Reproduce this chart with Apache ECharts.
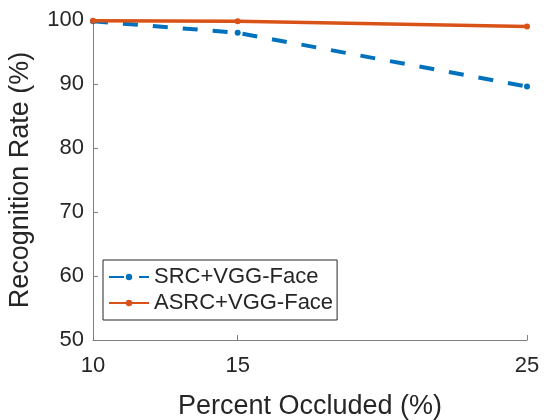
<!DOCTYPE html>
<html>
<head>
<meta charset="utf-8">
<script src="https://cdn.jsdelivr.net/npm/echarts@6/dist/echarts.min.js"></script>
<style>
  html, body { margin: 0; padding: 0; background: #fff; }
  #chart { width: 545px; height: 420px; }
</style>
</head>
<body>
<div id="chart"></div>
<script>
// Occlusion levels (%) and recognition rates (%)
const occlusion = [10, 15, 25];
const srcVgg = [99.8, 98.0, 89.6];
const asrcVgg = [99.9, 99.8, 99.0];
const xTicks = [10, 15, 25];
const yTicks = [50, 60, 70, 80, 90, 100];

const textColor = '#262626';
const axisColor = '#7f7f7f';
const font = 'Liberation Sans, Arial, Helvetica, sans-serif';

const chart = echarts.init(document.getElementById('chart'), null, { renderer: 'canvas' });

chart.setOption({
  animation: false,
  backgroundColor: '#ffffff',
  textStyle: { fontFamily: font },
  grid: { left: 93, right: 18, top: 20, bottom: 80, containLabel: false, outerBoundsMode: 'none' },
  legend: {
    left: 103,
    top: 260,
    orient: 'vertical',
    backgroundColor: '#ffffff',
    borderColor: '#262626',
    borderWidth: 1,
    padding: [6, 4, 6, 5],
    itemGap: 4,
    itemWidth: 40,
    itemHeight: 8,
    textStyle: { fontSize: 22, color: textColor, fontFamily: font },
    data: ['SRC+VGG-Face', 'ASRC+VGG-Face']
  },
  xAxis: {
    type: 'value',
    min: 10,
    max: 25,
    name: 'Percent Occluded (%)',
    nameLocation: 'middle',
    nameGap: 53,
    nameTextStyle: { fontSize: 27, color: textColor, fontFamily: font },
    axisLine: { lineStyle: { color: axisColor, width: 1 } },
    axisTick: { inside: true, length: 5, lineStyle: { color: axisColor }, customValues: xTicks },
    axisLabel: { fontSize: 22, color: textColor, margin: 15, customValues: xTicks },
    splitLine: { show: false }
  },
  yAxis: {
    type: 'value',
    min: 50,
    max: 100,
    interval: 10,
    name: 'Recognition Rate (%)',
    nameLocation: 'middle',
    nameGap: 59,
    nameTextStyle: { fontSize: 27, color: textColor, fontFamily: font },
    axisLine: { show: true, lineStyle: { color: axisColor, width: 1 } },
    axisTick: { show: true, inside: true, length: 5, lineStyle: { color: axisColor }, customValues: yTicks },
    axisLabel: { fontSize: 22, color: textColor, margin: 9, customValues: yTicks },
    splitLine: { show: false }
  },
  series: [
    {
      name: 'SRC+VGG-Face',
      type: 'line',
      data: occlusion.map((x, i) => [x, srcVgg[i]]),
      symbol: 'circle',
      symbolSize: 6,
      color: '#0072BD',
      lineStyle: { width: 4, type: [15, 15], cap: 'butt', color: '#0072BD' },
      itemStyle: { color: '#0072BD' },
      z: 2
    },
    {
      name: 'ASRC+VGG-Face',
      type: 'line',
      data: occlusion.map((x, i) => [x, asrcVgg[i]]),
      symbol: 'circle',
      symbolSize: 6,
      color: '#D95319',
      lineStyle: { width: 3.5, color: '#D95319' },
      itemStyle: { color: '#D95319' },
      z: 3
    }
  ]
});
</script>
</body>
</html>
